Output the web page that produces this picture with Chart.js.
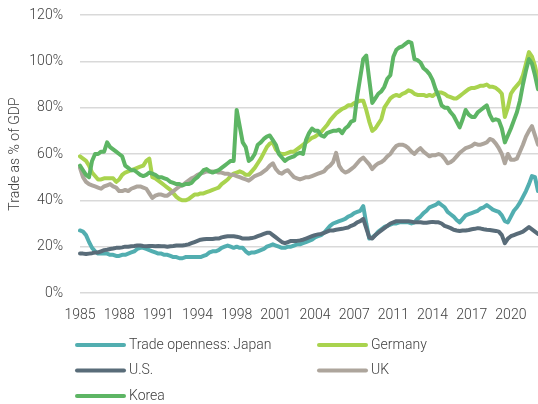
<!DOCTYPE html>
<html>
<head>
<meta charset="utf-8">
<script src="https://cdn.jsdelivr.net/npm/chart.js@4.4.0/dist/chart.umd.min.js"></script>
<style>
  html, body { margin: 0; padding: 0; background: #fff; }
  #wrap { width: 538px; height: 404px; position: relative; }
</style>
</head>
<body>
<div id="wrap"><canvas id="chart"></canvas></div>
<script>
// quarterly data, 1985 Q1 .. 2023 Q1
const startYear = 1985;
const quarterCount = 153;
const xTickLabels = ['1985', '1988', '1991', '1994', '1998', '2001', '2004', '2007', '2011', '2014', '2017', '2020'];
const xTickEvery = 13;

const seriesNames = ['Trade openness: Japan', 'Germany', 'U.S.', 'UK', 'Korea'];
const seriesColors = ['#52aeb0', '#a9d34e', '#596c79', '#ada59c', '#5db564'];

const japan = [
  27, 26.5, 25, 22,  19.5, 18, 17, 17,  17, 17, 16.5, 16.5,  16, 16, 16.5, 16.5,
  17, 17.5, 18, 19,  19.5, 19.5, 19, 18.5,  18, 17.5, 17, 17,  16.5, 16.5, 16, 15.5,
  15.5, 15, 15, 15.5,  15.5, 15.5, 15.5, 15.5,  15.5, 16, 16.5, 17.5,  18, 18, 18.5, 19.5,
  20, 20.5, 20, 19.5,  20, 19.5, 19.5, 18,  17, 17.5, 17.5, 18,  18.5, 19, 20, 20.5,
  21, 20.5, 20, 19.5,  19.5, 20, 20, 20.5,  21, 21, 21.5, 22,  22.5, 23, 24, 24.5,
  25, 26, 27.5, 29,  30, 30.5, 31, 31.5,  32, 33, 33.5, 34.5,  35, 35.5, 37.5, 30,
  23.5, 24, 25, 26.5,  27.5, 28.5, 29, 29.5,  30, 30, 30.5, 30.5,  30.5, 30.5, 30, 30.5,
  32, 33, 34.5, 35.5,  37, 37.5, 38, 39,  38, 37, 35, 34,  33, 31.5, 30.5, 32,
  33.5, 34, 34.5, 35,  35.5, 36.5, 37, 38,  37, 36, 35.5, 35,  33.5, 31, 30.5, 33,
  35.5, 37, 39, 41.5,  44, 47, 50.5, 50,  44
];
const germany = [
  59, 58, 57, 55,  52, 50.5, 49, 49,  49.5, 49.5, 49.5, 49.5,  48, 49, 51, 52,
  52.5, 53, 53.5, 54,  54.5, 55, 57, 58,  50, 49.5, 48.5, 47.5,  46.5, 45.5, 44.5, 43,
  41.5, 40.5, 40, 40,  40.5, 41.5, 42.5, 42.5,  43, 43, 43.5, 44,  44.5, 45, 45.5, 47,
  48, 49, 50.5, 51.5,  52, 52.5, 52, 51,  51, 52.5, 54, 56,  58, 60.5, 63, 64.5,
  65, 62, 60.5, 60,  60, 60.5, 61, 61,  62, 63, 64, 65,  66, 67, 67.5, 68.5,
  69.5, 71, 72.5, 74.5,  76, 77.5, 78.5, 79.5,  80, 81, 81, 82,  82.5, 83, 83, 79,
  74, 70, 71, 73,  75, 80, 82, 84,  85, 85.5, 85, 86,  86.5, 87.5, 87, 86,
  85.5, 85.5, 85.5, 85,  85.5, 85, 86, 86.5,  86.5, 86, 85, 84.5,  84, 84, 85, 86,
  87, 88, 88.5, 88.5,  89, 89.5, 89.5, 90,  89, 89, 88.5, 87.5,  86, 76, 80, 86,
  88, 89.5, 91, 94,  99, 104, 102, 98,  92
];
const us = [
  17, 17, 16.8, 17,  17.2, 17.5, 17.5, 18,  18.5, 18.7, 19, 19.2,  19.5, 19.5, 19.7, 20,
  20, 20.2, 20.3, 20.5,  20.5, 20.3, 20.2, 20.3,  20.3, 20.2, 20.3, 20.2,  20.2, 20, 20.2, 20.3,
  20.5, 20.5, 20.5, 20.7,  21, 21.5, 22, 22.5,  23, 23.2, 23.3, 23.3,  23.3, 23.5, 23.5, 24,
  24.3, 24.5, 24.5, 24.5,  24.3, 24, 23.5, 23.5,  23.5, 23.7, 24, 24.5,  25, 25.5, 26, 26,
  25, 24, 23, 22,  21.5, 22, 22.5, 22.5,  22.5, 22.7, 23, 23.5,  24, 24.5, 25, 25.3,
  25.5, 26, 26.5, 27,  27, 27.3, 27.5, 27.7,  28, 28.3, 29, 29.5,  30.5, 31, 32, 28,
  24, 23.5, 25, 26,  27, 28, 29, 30,  30.5, 31, 31, 31,  31, 31, 30.8, 30.5,
  30.5, 30.5, 30.3, 30.3,  30.5, 30.7, 30.5, 30.5,  30, 29, 28.5, 28,  27.3, 27, 26.8, 27,
  27, 27.2, 27.5, 27.7,  28, 27.8, 27.5, 27.3,  27.2, 27, 26.8, 26.5,  25, 21.5, 23.5, 24.5,
  25, 25.5, 26, 26.5,  27.5, 28.5, 27.5, 26.5,  25.5
];
const uk = [
  54, 50, 48, 47,  46.5, 46, 45.5, 45,  46, 46.5, 47, 46,  45.5, 44, 44, 44.5,
  44, 45, 45.5, 46,  46, 45.5, 45, 43,  41, 42, 42.5, 42.5,  42, 42, 43, 44,
  45, 46, 46.5, 47.5,  48.5, 49.5, 50, 51,  51.5, 52, 52.5, 52.5,  52.5, 52.5, 52, 52,
  51.5, 51.5, 51, 51,  50.5, 50, 49.5, 49,  48.5, 49.5, 50.5, 51,  51.5, 52.5, 53.5, 55,
  56, 53.5, 52, 51.5,  52.5, 53, 51.5, 50,  49.5, 49, 49.5, 50,  50, 50.5, 51, 51.5,
  52, 52.5, 54, 55,  56.5, 60.5, 55, 53,  52, 52.5, 53.5, 54.5,  56, 57.5, 58.5, 57,
  55.5, 53.5, 55, 56,  56.5, 57.5, 59, 60,  62, 63.5, 64, 64,  63.5, 62.5, 61, 60,
  61.5, 62.5, 61, 60,  59, 59.5, 59.5, 60,  59.5, 58, 56, 56.5,  57.5, 59, 60.5, 61.5,
  62.5, 63, 63.5, 64.5,  64, 64, 64.5, 65,  66.5, 66, 64.5, 62.5,  60, 56, 60, 57.5,
  57.5, 58, 61, 64,  67.5, 70, 72, 68,  64
];
const korea = [
  55, 53, 51, 50,  57, 60, 60, 61,  61, 65, 63, 62,  61, 60, 59, 55,
  54, 53, 53, 52,  51, 50.5, 51, 52,  51.5, 51, 50, 50,  49.5, 49, 48, 47.5,
  47, 47, 46.5, 47,  47, 47.5, 49, 50,  51.5, 53, 53.5, 52.5,  52, 52.5, 53, 54,
  55, 56, 57, 57,  79, 72, 65, 63,  57, 58, 60, 64,  65, 66.5, 67.5, 68,
  66, 64, 60, 58.5,  57, 58, 58.5, 59,  60, 60.5, 60, 66,  69, 71, 70, 70,
  68, 67.5, 69, 69.5,  70, 70, 70.5, 69,  71, 72, 74, 74.5,  85, 93, 101, 102.5,
  92, 82, 84, 86,  87, 89, 92.5, 94,  102, 105, 106, 106.5,  107.5, 108.5, 108, 101,
  100.5, 99.5, 97, 96,  94.5, 92, 88, 85,  81, 80, 80, 78,  76.5, 74, 71.5, 75,
  79, 77, 76, 76,  78, 79, 80, 81,  77, 74.5, 75, 74.5,  71, 65, 68, 71,
  74.5, 78, 83, 90,  96, 101, 99, 94,  88
];
const seriesValues = [japan, germany, us, uk, korea];

const yMin = 0, yMax = 120, yStep = 20;

const categories = [];
for (let i = 0; i < quarterCount; i++) {
  categories.push((startYear + Math.floor(i / 4)) + ' Q' + (i % 4 + 1));
}

const textColor = '#404040';
const fontFamily = 'Roboto, "Liberation Sans", sans-serif';

// two-column legend under the plot, like the original
const legendGrid = {
  id: 'legendGrid',
  afterDraw(chart) {
    const ctx = chart.ctx;
    const cols = [75, 317];
    const rows = [345, 370.5, 396];
    chart.data.datasets.forEach((ds, i) => {
      const x = cols[i % 2];
      const y = rows[Math.floor(i / 2)];
      ctx.save();
      ctx.strokeStyle = ds.borderColor;
      ctx.lineWidth = 4;
      ctx.lineCap = 'round';
      ctx.beginPath();
      ctx.moveTo(x + 2, y);
      ctx.lineTo(x + 49, y);
      ctx.stroke();
      ctx.fillStyle = textColor;
      ctx.font = '300 14px ' + fontFamily;
      ctx.textBaseline = 'middle';
      ctx.fillText(ds.label, x + 54, y);
      ctx.restore();
    });
  }
};

new Chart(document.getElementById('chart'), {
  type: 'line',
  data: {
    labels: categories,
    datasets: seriesNames.map((name, i) => ({
      label: name,
      data: seriesValues[i],
      borderColor: seriesColors[i],
      backgroundColor: seriesColors[i],
      borderWidth: 4,
      pointRadius: 0,
      tension: 0,
      borderJoinStyle: 'round',
      borderCapStyle: 'round',
      order: seriesNames.length - i
    }))
  },
  options: {
    responsive: true,
    maintainAspectRatio: false,
    animation: false,
    layout: { padding: { top: 15, right: 0, bottom: 81, left: 0 } },
    plugins: {
      legend: { display: false },
      tooltip: { enabled: false }
    },
    scales: {
      x: {
        grid: { display: false, drawTicks: false },
        border: { display: false },
        afterFit: (scale) => { scale.height = 30; scale.paddingLeft = 0; scale.paddingRight = 0; },
        ticks: {
          autoSkip: false,
          maxRotation: 0,
          padding: 14,
          color: textColor,
          font: { family: fontFamily, size: 14, weight: '300' },
          callback: (v, i) => (i % xTickEvery === 0 ? xTickLabels[i / xTickEvery] : null)
        }
      },
      y: {
        min: yMin,
        max: yMax,
        afterFit: (scale) => { scale.width = 80; scale.paddingTop = 0; scale.paddingBottom = 0; },
        grid: { color: '#d9d9d9', lineWidth: 1.5, drawTicks: false },
        border: { display: false },
        ticks: {
          stepSize: yStep,
          padding: 17,
          color: textColor,
          font: { family: fontFamily, size: 14, weight: '300' },
          callback: (v) => v + '%'
        },
        title: {
          display: true,
          text: 'Trade as % of GDP',
          color: textColor,
          padding: { top: 7, bottom: 0 },
          font: { family: fontFamily, size: 14, weight: '300' }
        }
      }
    }
  },
  plugins: [legendGrid]
});
</script>
</body>
</html>
